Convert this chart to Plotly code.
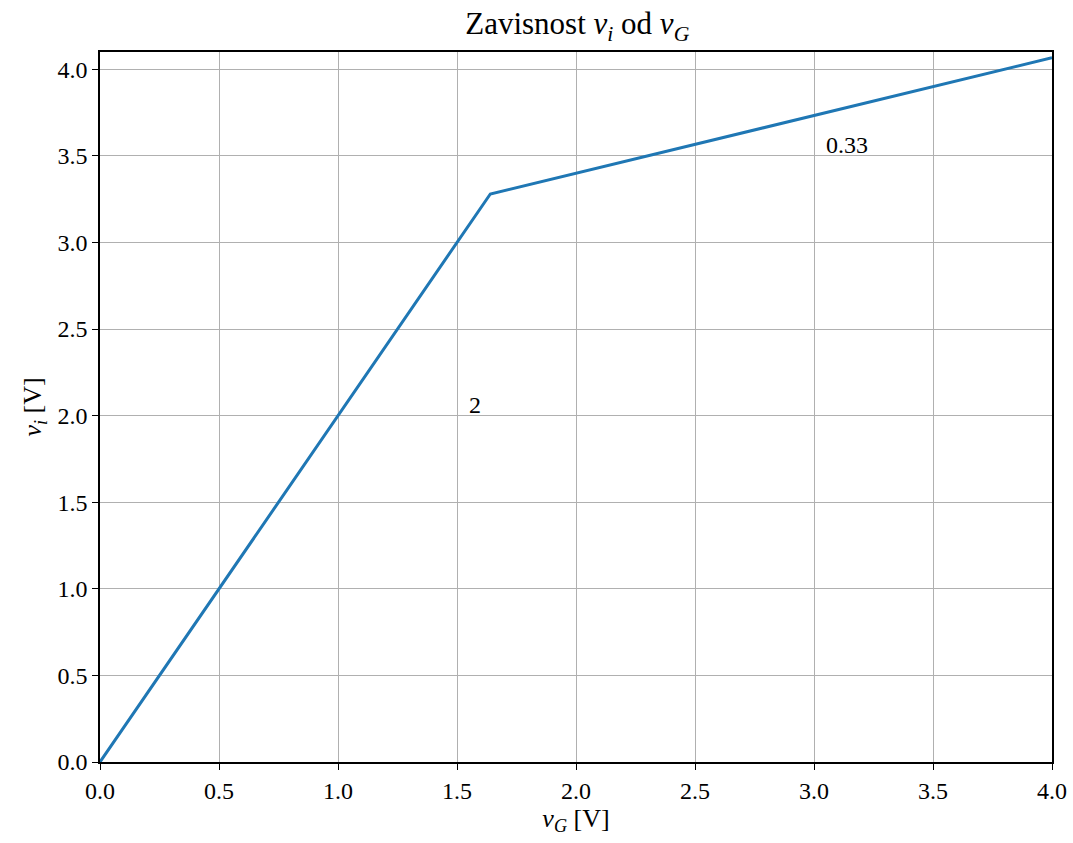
import plotly.graph_objects as go

vG = [0.0, 1.64, 4.0]
vi = [0.0, 3.28, 4.0667]
ann_text = ["2", "0.33"]
ann_x = [1.54, 3.04]
ann_y = [2.0, 3.5]
xticks = [0.0, 0.5, 1.0, 1.5, 2.0, 2.5, 3.0, 3.5, 4.0]
yticks = [0.0, 0.5, 1.0, 1.5, 2.0, 2.5, 3.0, 3.5, 4.0]

FONT = "Liberation Serif"
FS = 24

fig = go.Figure()
fig.add_trace(go.Scatter(x=vG, y=vi, mode="lines",
                         line=dict(color="#1f77b4", width=3), showlegend=False))

for t, x, y in zip(ann_text, ann_x, ann_y):
    fig.add_annotation(x=x, y=y, text=t, showarrow=False, xanchor="left",
                       yanchor="bottom", yshift=-4,
                       font=dict(family=FONT, size=FS, color="black"))

axis_common = dict(showline=True, linecolor="black", linewidth=1.5, mirror=True,
                   ticks="outside", ticklen=6, tickwidth=1.3, tickcolor="black",
                   showgrid=True, gridcolor="#b0b0b0", gridwidth=1.3, zeroline=False,
                   automargin=False,
                   tickfont=dict(family=FONT, size=FS, color="black"))

fig.update_xaxes(range=[0, 4], tickvals=xticks, ticktext=[f"{v:.1f}" for v in xticks],
                 title=dict(text="<i>v</i><sub><i>G</i></sub> [V]",
                            font=dict(family=FONT, size=26, color="black"), standoff=6),
                 **axis_common)
fig.update_yaxes(range=[0, 4.1], tickvals=yticks, ticktext=[f"{v:.1f}" for v in yticks],
                 title=dict(text="<i>v</i><sub><i>i</i></sub> [V]",
                            font=dict(family=FONT, size=26, color="black"), standoff=8),
                 **axis_common)

fig.update_layout(width=1073, height=843, plot_bgcolor="white", paper_bgcolor="white",
                  margin=dict(l=100, r=21, t=52, b=81),
                  title=dict(text="Zavisnost <i>v</i><sub><i>i</i></sub> od <i>v</i><sub><i>G</i></sub>",
                             x=0.538, xanchor="center", y=0.972, yanchor="middle",
                             font=dict(family=FONT, size=31, color="black")))

fig.write_html("out.html", config={"displayModeBar": False},
               post_script="document.body.style.margin='0px';"
                           "document.body.style.overflow='hidden';"
                           "document.documentElement.style.overflow='hidden';")
